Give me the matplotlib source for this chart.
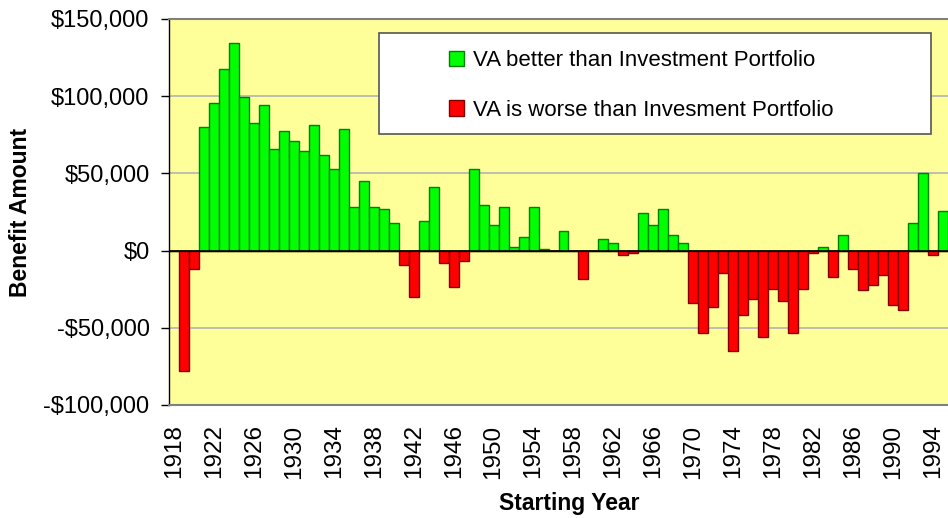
import numpy as np
import matplotlib
matplotlib.use("Agg")
import matplotlib.pyplot as plt
from matplotlib.patches import Rectangle
from matplotlib.ticker import FuncFormatter, MultipleLocator

plt.rcParams["font.family"] = ["Liberation Sans", "DejaVu Sans"]

# starting years and benefit amount (VA minus investment portfolio)
years = list(range(1918, 1996))
benefit = [
    0, -78000, -12000, 80000, 95500, 117500, 134300, 99200, 82600, 94000,
    65700, 77200, 70900, 64400, 81300, 61900, 52600, 78700, 28200, 45000,
    28200, 26700, 17900, -9500, -30000, 19400, 41100, -8000, -23500, -6900,
    52600, 29500, 16600, 28000, 2300, 8800, 28000, 1300, 0, 12900,
    0, -18400, 0, 7500, 4900, -3000, -1500, 24300, 16400, 26700,
    9900, 4700, -33900, -53300, -36500, -14500, -65000, -41900, -31500, -56100,
    -24800, -32800, -53300, -24800, -1700, 2300, -16800, 9900, -11900, -25200,
    -22500, -16000, -35400, -38200, 17900, 50200, -3000, 25400,
]
label_better = "VA better than Investment Portfolio"
label_worse = "VA is worse than Invesment Portfolio"

vals = np.array(benefit, dtype=float)
x = np.arange(len(years))
better = np.where(vals > 0, vals, 0)
worse = np.where(vals < 0, vals, 0)

fig = plt.figure(figsize=(9.48, 5.18), dpi=100)
ax = fig.add_axes([169 / 948, 1 - 405 / 518, 1 - 169 / 948, (405 - 19) / 518])
ax.set_facecolor("#FFFF99")

ax.bar(x, better, width=1.0, color="#00FF00", edgecolor="#008000",
       linewidth=1.0, zorder=2, label=label_better)
ax.bar(x, worse, width=1.0, color="#FF0000", edgecolor="#800000",
       linewidth=1.0, zorder=2, label=label_worse)
ax.axhline(0, color="black", lw=1.2, zorder=3)

ax.set_xlim(-0.5, len(years) - 0.5)
ax.set_ylim(-100000, 150000)
ax.yaxis.set_major_locator(MultipleLocator(50000))
ax.yaxis.set_major_formatter(FuncFormatter(
    lambda v, p: ("-$" if v < 0 else "$") + f"{abs(int(v)):,}"))
ax.grid(axis="y", color="#b4b4b4", lw=1.2, zorder=1)
ax.set_axisbelow(True)

ax.set_xticks(x[::4])
ax.set_xticklabels([str(y) for y in years[::4]], rotation=90, fontsize=17.5)
ax.tick_params(axis="x", length=0, pad=14)
ax.tick_params(axis="y", length=6, width=1, pad=8, labelsize=17, color="black")

for s in ["top", "bottom"]:
    ax.spines[s].set_color("#808080")
    ax.spines[s].set_linewidth(1.5)
ax.spines["right"].set_visible(False)
ax.spines["left"].set_color("black")
ax.spines["left"].set_linewidth(1.0)

ax.set_ylabel("Benefit Amount", fontsize=16.5, fontweight="bold")
ax.yaxis.set_label_coords(-(169 - 32) / 779, 0.5)
ax.set_xlabel("Starting Year", fontsize=16.5, fontweight="bold")
ax.xaxis.set_label_coords((569 - 169) / 779, -(492 - 405) / 386)

# legend frame drawn separately so the entries sit inside like in Excel
frame = Rectangle(((379 - 169) / 779, (405 - 134) / 386),
                  (931 - 379) / 779, (134 - 33) / 386,
                  transform=ax.transAxes, facecolor="white",
                  edgecolor="#555555", lw=1.2, zorder=4)
ax.add_patch(frame)
leg = ax.legend(loc="upper left",
                bbox_to_anchor=((429 - 169) / 779, (405 - 30) / 386),
                frameon=False, fontsize=16, handlelength=0.68,
                handleheight=0.68, handletextpad=0.42, labelspacing=1.3,
                borderpad=0.4)
leg.set_zorder(5)

fig.savefig("out.png", dpi=100)
